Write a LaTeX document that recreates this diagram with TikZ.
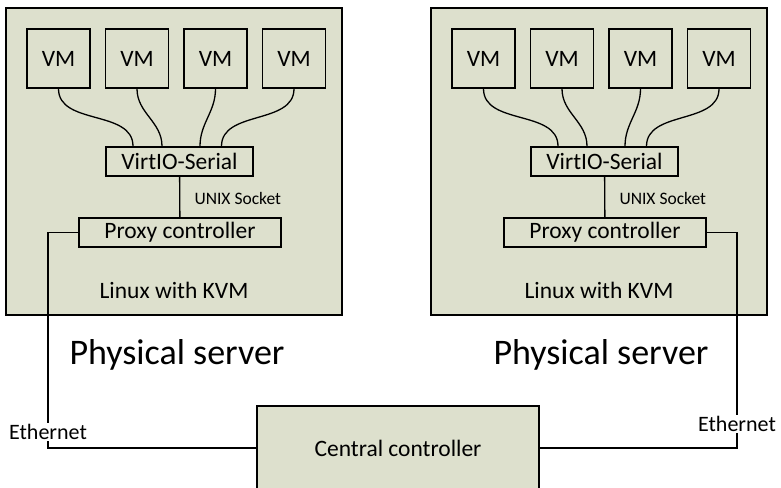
\documentclass[tikz,border=0pt]{standalone}
\usepackage{fontspec}
\setmainfont{Carlito}
\usetikzlibrary{positioning}
\definecolor{sage}{RGB}{221,224,205}
\tikzstyle{server} = [rectangle, draw=black, fill=sage, line width=1.6pt, minimum width=336pt, minimum height=307pt]
\tikzstyle{vmbox} = [rectangle, draw=black, line width=1.6pt, minimum width=63pt, minimum height=59pt, font=\fontsize{23.5}{27}\selectfont]
\tikzstyle{block} = [rectangle, draw=black, line width=1.6pt, minimum height=29pt, inner sep=0pt, font=\fontsize{23.5}{27}\selectfont]
\tikzstyle{wire} = [line width=1.3pt]
\tikzstyle{smalltext} = [font=\fontsize{17.5}{20}\selectfont]
\tikzstyle{ethlabel} = [fill=white, inner sep=1pt, font=\fontsize{22}{26}\selectfont]
\tikzstyle{caption} = [font=\fontsize{23.5}{27}\selectfont]
\tikzstyle{bigcaption} = [font=\fontsize{36}{42}\selectfont]

\begin{document}
\begin{tikzpicture}[x=1pt, y=1pt]
\useasboundingbox (0,0) rectangle (781,487);

\node (hostL) [server] at (174,325.5) {};
\node (hostR) [server] at (599,325.5) {};

\node (vmL1) [vmbox] at (58.5,428.5) {VM};
\node (vmL2) [vmbox] at (137,428.5) {VM};
\node (vmL3) [vmbox] at (215.5,428.5) {VM};
\node (vmL4) [vmbox] at (294,428.5) {VM};
\node (vmR1) [vmbox] at (483.5,428.5) {VM};
\node (vmR2) [vmbox] at (562,428.5) {VM};
\node (vmR3) [vmbox] at (640.5,428.5) {VM};
\node (vmR4) [vmbox] at (719,428.5) {VM};

\node (serialL) [block, minimum width=147pt] at (179.5,325.5) {VirtIO-Serial};
\node (proxyL) [block, minimum width=202pt] at (180,254.5) {Proxy controller};
\node (serialR) [block, minimum width=147pt] at (604.5,325.5) {VirtIO-Serial};
\node (proxyR) [block, minimum width=202pt] at (605,254.5) {Proxy controller};

\node (unixL) [smalltext, anchor=west] at (191,289) {UNIX Socket};
\node (unixR) [smalltext, anchor=west] at (616,289) {UNIX Socket};
\node (kvmL) [caption] at (174,197) {Linux with KVM};
\node (kvmR) [caption] at (599,197) {Linux with KVM};
\node (physL) [bigcaption] at (177,132) {Physical server};
\node (physR) [bigcaption] at (601,132) {Physical server};

\node (central) [block, fill=sage, minimum width=282pt, minimum height=84pt] at (398,39) {Central controller};

\draw [wire] (vmL1.south) to[out=-90, in=90] ([xshift=-46.5pt]serialL.north);
\draw [wire] (vmL2.south) to[out=-90, in=90] ([xshift=-17.5pt]serialL.north);
\draw [wire] (vmL3.south) to[out=-90, in=90] ([xshift=20.5pt]serialL.north);
\draw [wire] (vmL4.south) to[out=-90, in=90] ([xshift=42pt]serialL.north);
\draw [wire] (vmR1.south) to[out=-90, in=90] ([xshift=-46.5pt]serialR.north);
\draw [wire] (vmR2.south) to[out=-90, in=90] ([xshift=-17.5pt]serialR.north);
\draw [wire] (vmR3.south) to[out=-90, in=90] ([xshift=20.5pt]serialR.north);
\draw [wire] (vmR4.south) to[out=-90, in=90] ([xshift=42pt]serialR.north);

\draw [wire] (serialL) -- (proxyL);
\draw [wire] (serialR) -- (proxyR);

\coordinate (ethL) at (48,39);
\coordinate (ethR) at (737,39);
\draw [wire] (proxyL.west) -| node[pos=0.963, ethlabel] (etherL) {Ethernet} (ethL) -- (central.west);
\draw [wire] (proxyR.east) -| node[pos=0.944, ethlabel] (etherR) {Ethernet} (ethR) -- (central.east);

\end{tikzpicture}
\end{document}
